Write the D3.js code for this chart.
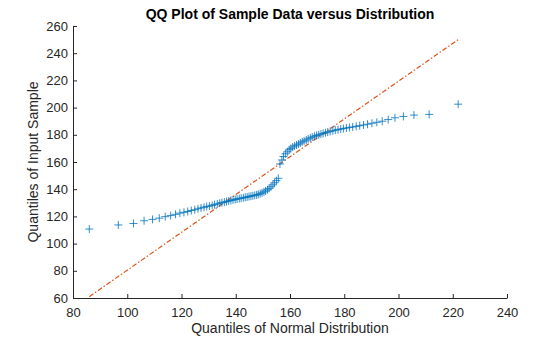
<!DOCTYPE html>
<meta charset="utf-8">
<style>
    body {
        margin: 0;
        padding: 0;
        background: #fff;
        font-family: "Liberation Sans", Helvetica, Arial, sans-serif;
    }

    svg {
        display: block;
    }

    .axis path,
    .axis line {
        stroke: #262626;
    }

    .axis text {
        fill: #262626;
        font-size: 13px;
    }
</style>
<svg width="560" height="337"></svg>
<script src="https://d3js.org/d3.v7.min.js"></script>
<script>
    // x: quantiles of the fitted normal, y: sorted sample
    var normalQuantiles = [
        86.0, 96.7, 102.3, 106.2, 109.3, 111.8, 114.0, 116.0, 117.8, 119.4,
        120.9, 122.3, 123.6, 124.9, 126.1, 127.2, 128.3, 129.3, 130.3, 131.3,
        132.2, 133.2, 134.1, 134.9, 135.8, 136.6, 137.4, 138.2, 139.0, 139.8,
        140.5, 141.3, 142.0, 142.8, 143.5, 144.2, 144.9, 145.6, 146.3, 147.0,
        147.7, 148.3, 149.0, 149.7, 150.4, 151.0, 151.7, 152.3, 153.0, 153.7,
        154.3, 155.0, 155.7, 156.3, 157.0, 157.6, 158.3, 159.0, 159.7, 160.3,
        161.0, 161.7, 162.4, 163.1, 163.8, 164.5, 165.2, 166.0, 166.7, 167.5,
        168.2, 169.0, 169.8, 170.6, 171.4, 172.2, 173.1, 173.9, 174.8, 175.8,
        176.7, 177.7, 178.7, 179.7, 180.8, 181.9, 183.1, 184.4, 185.7, 187.1,
        188.6, 190.2, 192.0, 194.0, 196.2, 198.7, 201.8, 205.7, 211.3, 222.0
    ];

    var sampleQuantiles = [
        110.7, 113.7, 114.8, 116.8, 117.8, 118.7, 119.8, 120.6, 121.5, 122.4,
        123.0, 123.6, 124.3, 124.9, 125.6, 126.2, 126.7, 127.2, 127.6, 128.1,
        128.7, 129.2, 129.7, 130.1, 130.5, 130.9, 131.3, 131.7, 132.1, 132.5,
        132.8, 133.1, 133.4, 133.7, 134.0, 134.3, 134.6, 134.9, 135.2, 135.5,
        135.8, 136.2, 136.7, 137.3, 138.0, 138.7, 139.6, 140.6, 141.8, 143.2,
        144.7, 146.3, 148.0, 158.5, 161.5, 164.0, 166.0, 167.5, 169.0, 170.0,
        171.0, 171.8, 172.5, 173.2, 174.0, 174.8, 175.5, 176.2, 177.0, 177.7,
        178.3, 178.9, 179.5, 180.0, 180.5, 181.0, 181.5, 182.0, 182.5, 183.0,
        183.4, 183.8, 184.2, 184.6, 185.0, 185.4, 185.8, 186.2, 186.7, 187.2,
        187.8, 188.5, 189.2, 190.0, 191.2, 192.5, 193.5, 194.5, 195.0, 202.5
    ];

    // reference line through the quartiles, spanning the data range
    var refLineX = [86.0, 222.0];
    var refLineY = [61.0, 250.0];

    var xTicks = [80, 100, 120, 140, 160, 180, 200, 220, 240];
    var yTicks = [60, 80, 100, 120, 140, 160, 180, 200, 220, 240, 260];

    var svg = d3.select("svg");
    var margin = {left: 73, right: 53, top: 26, bottom: 39};
    var width = 560 - margin.left - margin.right;
    var height = 337 - margin.top - margin.bottom;

    var x = d3.scaleLinear().domain([80, 240]).range([0, width]);
    var y = d3.scaleLinear().domain([60, 260]).range([height, 0]);

    var g = svg.append("g")
        .attr("transform", "translate(" + margin.left + "," + margin.top + ")");

    // axes, ticks point inward like matlab
    g.append("g")
        .attr("class", "axis")
        .attr("transform", "translate(0," + height + ")")
        .call(d3.axisBottom(x).tickValues(xTicks).tickSizeInner(-4).tickSizeOuter(0).tickPadding(7))
        .call(function(a) {
            a.selectAll("text").attr("dy", "0.9em");
        });

    g.append("g")
        .attr("class", "axis")
        .call(d3.axisLeft(y).tickValues(yTicks).tickSizeInner(-4).tickSizeOuter(0).tickPadding(5));

    // reference line
    var refData = refLineX.map(function(d, i) {
        return [d, refLineY[i]];
    });

    svg.append("clipPath").attr("id", "clip")
        .append("rect")
        .attr("width", width).attr("height", height);

    g.append("path")
        .datum(refData)
        .attr("clip-path", "url(#clip)")
        .attr("fill", "none")
        .attr("stroke", "#D95319")
        .attr("stroke-width", 1.2)
        .attr("stroke-dasharray", "5,2,1.5,2")
        .attr("d", d3.line()
            .x(function(d) { return x(d[0]); })
            .y(function(d) { return y(d[1]); }));

    // plus markers
    var pts = normalQuantiles.map(function(d, i) {
        return [d, sampleQuantiles[i]];
    });

    var r = 4;
    g.append("g")
        .selectAll("path")
        .data(pts)
        .enter().append("path")
        .attr("fill", "none")
        .attr("stroke", "#0072BD")
        .attr("stroke-width", 0.8)
        .attr("d", function(d) {
            var cx = x(d[0]), cy = y(d[1]);
            return "M" + (cx - r) + "," + cy + "H" + (cx + r) + "M" + cx + "," + (cy - r) + "V" + (cy + r);
        });

    // title and labels
    svg.append("text")
        .attr("x", margin.left + width / 2)
        .attr("y", 19)
        .attr("text-anchor", "middle")
        .attr("font-weight", "bold")
        .attr("font-size", 14)
        .attr("fill", "#000")
        .text("QQ Plot of Sample Data versus Distribution");

    svg.append("text")
        .attr("x", margin.left + width / 2)
        .attr("y", 333)
        .attr("text-anchor", "middle")
        .attr("font-size", 14)
        .attr("fill", "#262626")
        .text("Quantiles of Normal Distribution");

    svg.append("text")
        .attr("transform", "translate(38," + (margin.top + height / 2) + ") rotate(-90)")
        .attr("text-anchor", "middle")
        .attr("font-size", 14)
        .attr("fill", "#262626")
        .text("Quantiles of Input Sample");
</script>
